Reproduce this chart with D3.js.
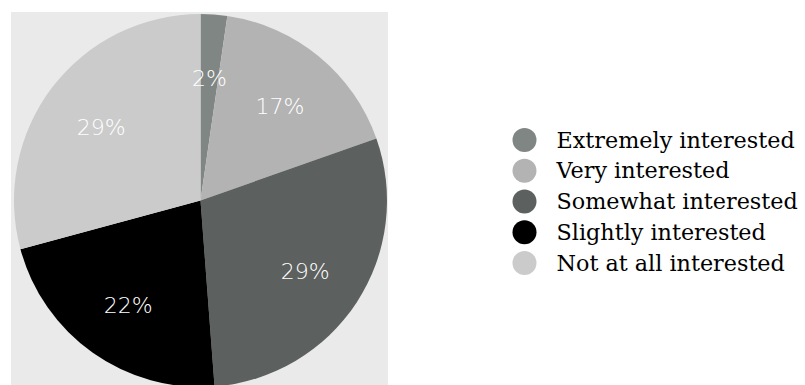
<!DOCTYPE html>
<html>
<head>
<meta charset="utf-8">
<script src="https://cdn.jsdelivr.net/npm/d3@7"></script>
<style>
  html, body { margin: 0; padding: 0; background: #ffffff; }
  svg { display: block; }
</style>
</head>
<body>
<svg id="chart" width="805" height="385"></svg>
<script>
const categories = ["Extremely interested", "Very interested", "Somewhat interested", "Slightly interested", "Not at all interested"];
const values = [2.3, 17.3, 29.2, 22.0, 29.2];
const labels = ["2%", "17%", "29%", "22%", "29%"];
const colors = ["#7f8683", "#b3b3b3", "#5c605e", "#000000", "#cbcbcb"];

const svg = d3.select("#chart");

// plot background panel
svg.append("rect")
  .attr("x", 11).attr("y", 12)
  .attr("width", 377).attr("height", 377)
  .attr("fill", "#eaeaea");

const cx = 200.5, cy = 200.5, R = 186.5, labelR = 125;

const pie = d3.pie().sort(null).value(d => d);
const arcs = pie(values);
const arc = d3.arc().innerRadius(0).outerRadius(R);
const labelArc = d3.arc().innerRadius(labelR).outerRadius(labelR);

const color = d3.scaleOrdinal().domain(categories).range(colors);

const g = svg.append("g").attr("transform", `translate(${cx},${cy})`);

g.selectAll("path.slice")
  .data(arcs)
  .join("path")
  .attr("class", "slice")
  .attr("d", arc)
  .attr("fill", (d, i) => color(categories[i]));

g.selectAll("text.lbl")
  .data(arcs)
  .join("text")
  .attr("class", "lbl")
  .attr("transform", d => {
    const [x, y] = labelArc.centroid(d);
    return `translate(${x},${y + 10.5})`;
  })
  .attr("text-anchor", "middle")
  .attr("font-family", "'DejaVu Sans', sans-serif")
  .attr("font-weight", 200)
  .attr("font-size", 22)
  .attr("fill", "#ffffff")
  .text((d, i) => labels[i]);

// legend
const legendY = d3.scalePoint().domain(categories).range([140, 263]);
const legend = svg.append("g");
const items = legend.selectAll("g.item")
  .data(categories)
  .join("g")
  .attr("class", "item")
  .attr("transform", d => `translate(524.5,${legendY(d)})`);

items.append("circle")
  .attr("r", 12)
  .attr("fill", d => color(d));

items.append("text")
  .attr("x", 32)
  .attr("y", 7.5)
  .attr("font-family", "'DejaVu Serif', serif")
  .attr("font-size", 22.3)
  .attr("fill", "#000000")
  .text(d => d);
</script>
</body>
</html>
